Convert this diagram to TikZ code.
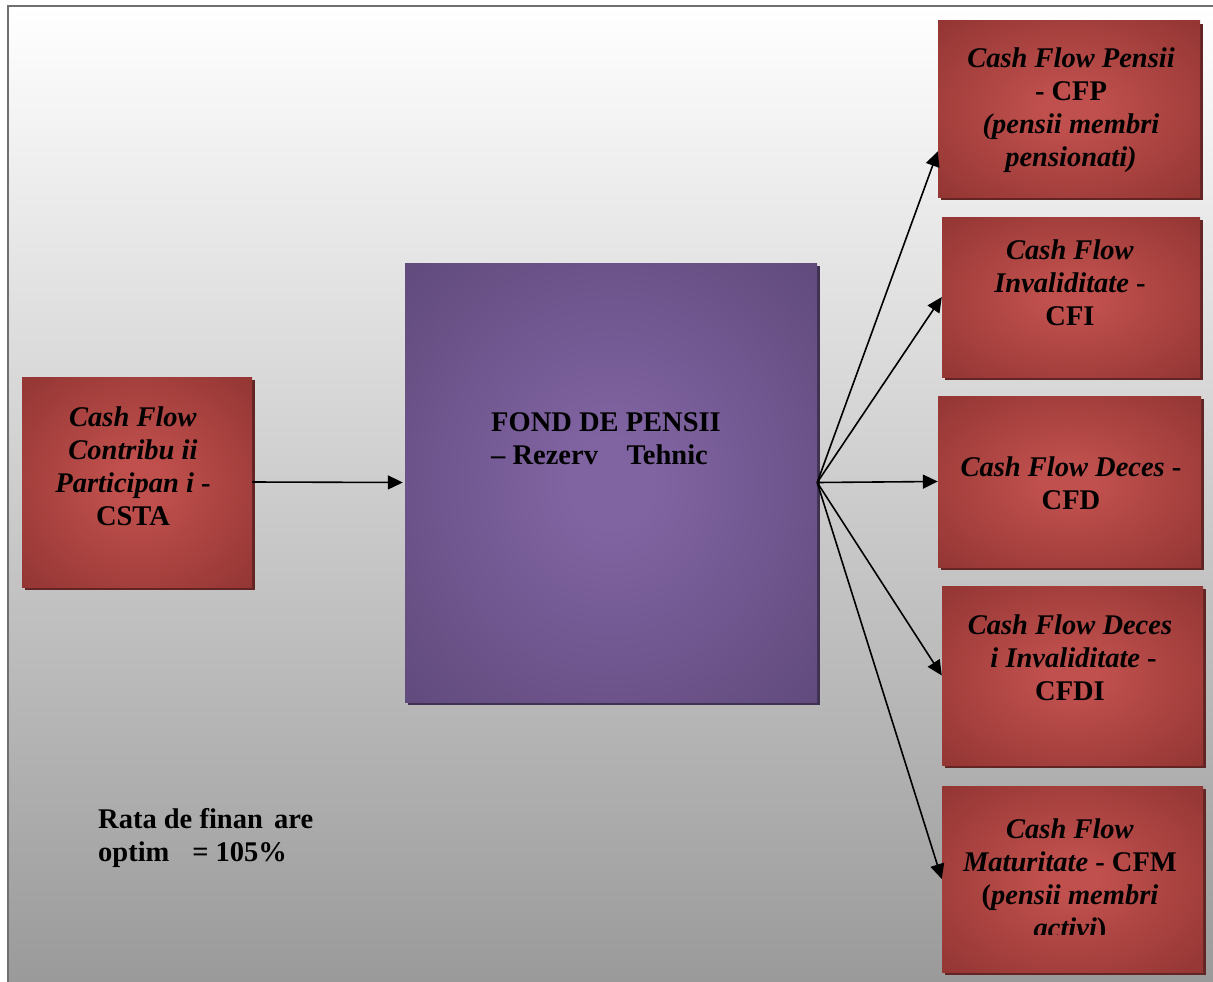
\documentclass[tikz,border=0pt]{standalone}
\usepackage{fontspec}
\setmainfont{Liberation Serif}
\usetikzlibrary{arrows.meta,shadows,calc}
\definecolor{redin}{HTML}{C0504D}
\definecolor{redout}{HTML}{923533}
\definecolor{redshadow}{HTML}{632523}
\definecolor{purin}{HTML}{8064A2}
\definecolor{purout}{HTML}{5E4879}
\definecolor{purshadow}{HTML}{3F3151}
\definecolor{framegray}{HTML}{707070}
\definecolor{bgmid}{HTML}{D8D8D8}
\definecolor{bgbottom}{HTML}{9A9A9A}
\pgfdeclareradialshading{redglow}{\pgfpoint{0bp}{0bp}}{color(0bp)=(redin); color(5bp)=(redin); color(36bp)=(redout); color(80bp)=(redout)}
\pgfdeclareradialshading{purglow}{\pgfpoint{0bp}{0bp}}{color(0bp)=(purin); color(5bp)=(purin); color(38bp)=(purout); color(80bp)=(purout)}
\tikzset{
  redbox/.style={rectangle, inner sep=0pt, draw=none, shading=redglow,
    drop shadow={shadow xshift=3pt, shadow yshift=-3pt, fill=redshadow, opacity=1}},
  purbox/.style={rectangle, inner sep=0pt, draw=none, shading=purglow,
    drop shadow={shadow xshift=3pt, shadow yshift=-3pt, fill=purshadow, opacity=1}},
  txt/.style={inner sep=0pt, align=center, text=black,
    font=\fontsize{28.5}{33}\selectfont\bfseries},
  arr/.style={-{Triangle[length=15pt,width=14pt]}, line width=1.6pt, black},
}
\begin{document}
\begin{tikzpicture}[x=1pt,y=-1pt]
\useasboundingbox (0,0) rectangle (1213,982);
% background
\shade[top color=white, middle color=bgmid, bottom color=bgbottom] (8,6) rectangle (1213,982);
\draw[framegray, line width=2pt] (8,982) -- (8,6) -- (1213,6);

% boxes
\node[redbox, minimum width=230pt, minimum height=210pt] (src) at (137,482) {};
\node[purbox, minimum width=412pt, minimum height=439pt] (fund) at (611,482.5) {};
\node[redbox, minimum width=262pt, minimum height=176pt] (b1) at (1069,109) {};
\node[redbox, minimum width=258pt, minimum height=160pt] (b2) at (1071,297) {};
\node[redbox, minimum width=263pt, minimum height=171pt] (b3) at (1069.5,481.5) {};
\node[redbox, minimum width=261pt, minimum height=179pt] (b4) at (1072.5,675.5) {};
\node[redbox, minimum width=261pt, minimum height=186pt] (b5) at (1072.5,879) {};

% texts
\node[txt] (tsrc) at (133,466) {\textit{Cash Flow}\\\textit{Contribu ii}\\\textit{Participan i} -\\CSTA};
\node[txt, align=left, anchor=west] (tfund) at (491,439) {FOND DE PENSII\\– Rezerv\hspace{1.0em}Tehnic};
\node[txt] (t1) at (1071,110) {\textit{Cash Flow Pensii}\\- CFP\\\textit{(pensii membri}\\\textit{pensionati)}};
\node[txt] (t2) at (1070,283) {\textit{Cash Flow}\\\textit{Invaliditate} -\\CFI};
\node[txt] (t3) at (1071,483) {\textit{Cash Flow Deces} -\\CFD};
\node[txt] (t4) at (1070,658) {\textit{Cash Flow Deces}\\\textit{ i Invaliditate} -\\CFDI};
\begin{scope}
\clip (930,780) rectangle (1213,934);
\node[txt] (t5) at (1070,881) {\textit{Cash Flow}\\\textit{Maturitate} - CFM\\(\textit{pensii membri}\\\textit{activi})};
\end{scope}
\node[txt, align=left, anchor=west] (rate) at (98,838) {Rata de finan\hspace{0.4em}are\\optim\hspace{0.8em}= 105\%};

% connectors
\draw[arr, shorten >=2pt] (src.east) -- (fund.west);
\draw[arr] (fund.east) -- ($(b1.north west)!0.74!(b1.south west)$);
\draw[arr] (fund.east) -- (b2.west);
\draw[arr] (fund.east) -- (b3.west);
\draw[arr] (fund.east) -- (b4.west);
\draw[arr] (fund.east) -- (b5.west);
\end{tikzpicture}
\end{document}
